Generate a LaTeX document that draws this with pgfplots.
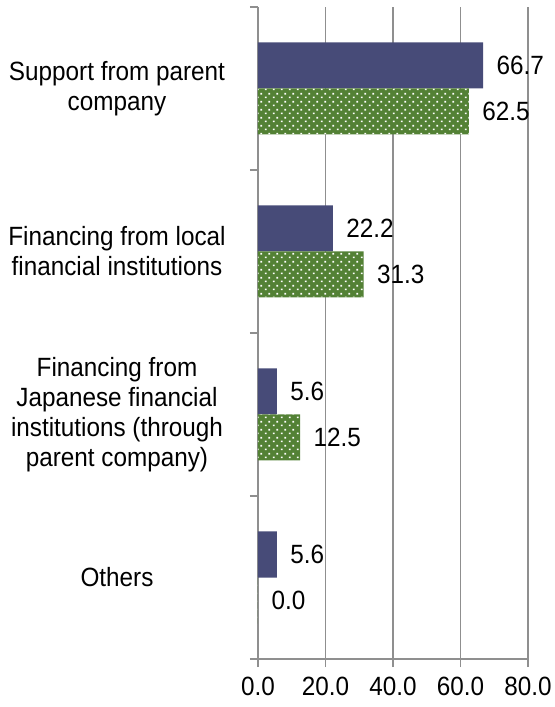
\documentclass[border=0pt]{standalone}
\usepackage{fontspec}
\setmainfont[FakeStretch=0.92]{Liberation Sans}
\usepackage{pgfplots}
\pgfplotsset{compat=1.18}
\usetikzlibrary{patterns}

\definecolor{barnavy}{HTML}{474B78}
\definecolor{bargreen}{HTML}{538135}
\definecolor{axgray}{HTML}{8F8F8F}

% staggered white dots on the green bars
\pgfdeclarepatternformonly{wdots}{\pgfpoint{0bp}{0bp}}{\pgfpoint{8bp}{8bp}}{\pgfpoint{8bp}{8bp}}{%
  \pgfpathrectangle{\pgfpoint{1bp}{1bp}}{\pgfpoint{1.8bp}{1.8bp}}%
  \pgfpathrectangle{\pgfpoint{5bp}{5bp}}{\pgfpoint{1.8bp}{1.8bp}}%
  \pgfusepath{fill}}

\begin{document}
\begin{tikzpicture}
\begin{axis}[
  at={(0,0)}, anchor=south west,
  scale only axis,
  width=270bp, height=652bp,
  xbar, bar width=46bp,
  xmin=0, xmax=80,
  ymin=-0.5, ymax=3.5,
  axis lines=left,
  axis line style={-, draw=axgray, line width=1.3bp},
  xtick={0,20,40,60,80},
  xmajorgrids,
  grid style={draw=axgray, line width=1.3bp},
  tick align=outside,
  major tick length=8bp,
  xtick style={draw=axgray, line width=1.3bp},
  ytick={0,1,2,3},
  ytick style={draw=none},
  yticklabels={{Others},
    {Financing from\\Japanese financial\\institutions (through\\parent company)},
    {Financing from local\\financial institutions},
    {Support from parent\\company}},
  extra y ticks={-0.5,0.5,1.5,2.5,3.5},
  extra y tick labels={},
  extra y tick style={ytick style={draw=axgray, line width=1.3bp}, grid=none},
  tick label style={font=\fontsize{26.5}{30}\selectfont},
  yticklabel style={align=center, anchor=center, xshift=-133bp},
  xticklabel style={yshift=-7bp},
  /pgf/number format/assume math mode=true,
  xticklabel={\pgfmathprintnumber[fixed,fixed zerofill,precision=1]{\tick}},
  nodes near coords,
  nodes near coords style={font=\fontsize{26.5}{30}\selectfont, anchor=west, xshift=10bp,
    /pgf/number format/.cd, fixed, fixed zerofill, precision=1, assume math mode=true},
  clip=false,
]
\addplot[fill=barnavy, draw=none, bar shift=23bp] coordinates {(66.7,3) (22.2,2) (5.6,1) (5.6,0)};
\addplot[fill=bargreen, draw=none, bar shift=-23bp, postaction={pattern=wdots, pattern color=white}]
  coordinates {(62.5,3) (31.3,2) (12.5,1) (0.0,0)};
\end{axis}
\pgfresetboundingbox
\path (-258bp,-48bp) rectangle (297bp,659bp);
\end{tikzpicture}
\end{document}
